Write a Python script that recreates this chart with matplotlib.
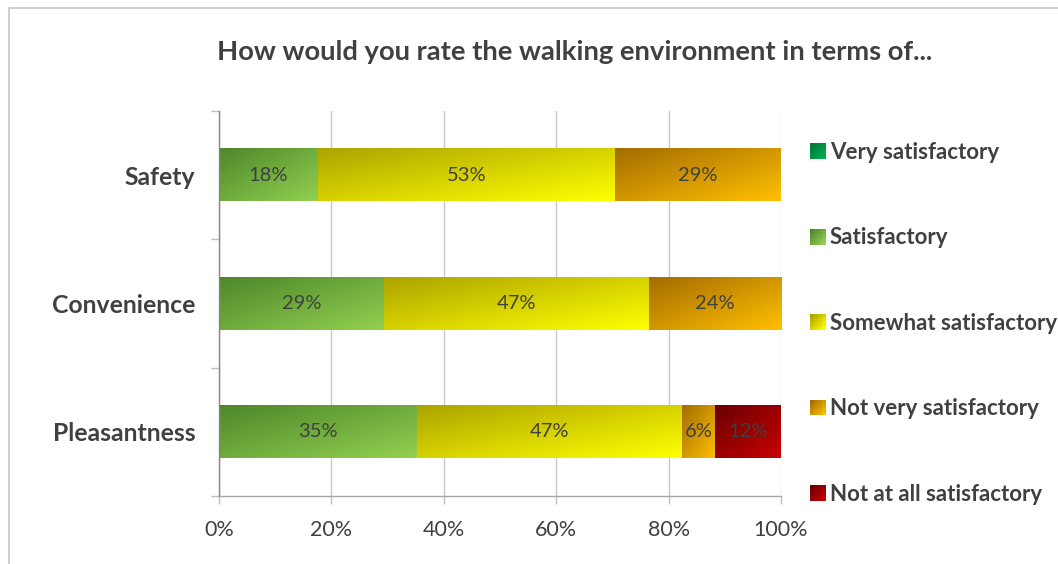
import matplotlib
matplotlib.use("Agg")
import matplotlib.pyplot as plt
import numpy as np
from matplotlib.colors import LinearSegmentedColormap
from matplotlib.legend_handler import HandlerBase
from matplotlib.patches import Rectangle, Patch

plt.rcParams["font.family"] = ["Lato", "DejaVu Sans"]

# Survey responses (share of respondents, %)
categories = ["Safety", "Convenience", "Pleasantness"]
series_names = ["Very satisfactory", "Satisfactory", "Somewhat satisfactory",
                "Not very satisfactory", "Not at all satisfactory"]
very_satisfactory = [0.0, 0.0, 0.0]
satisfactory = [17.6, 29.4, 35.3]
somewhat_satisfactory = [52.9, 47.1, 47.1]
not_very_satisfactory = [29.4, 23.5, 5.9]
not_at_all_satisfactory = [0.0, 0.0, 11.8]
x_ticks = [0, 20, 40, 60, 80, 100]
x_tick_labels = ["0%", "20%", "40%", "60%", "80%", "100%"]

# dark (top-left) -> light (bottom-right) gradient stops per series
gradients = [("#00793A", "#00B050"),
             ("#4E872A", "#92D050"),
             ("#ADA400", "#FFFF00"),
             ("#A46C00", "#FFC000"),
             ("#6A0000", "#C80000")]

series_values = [very_satisfactory, satisfactory, somewhat_satisfactory,
                 not_very_satisfactory, not_at_all_satisfactory]

text_color = "#404040"

fig = plt.figure(figsize=(10.58, 5.64), dpi=100)
ax = fig.add_axes([219 / 1058, 68 / 564, 562 / 1058, 385 / 564])

# chart-area frame
fig.patches.append(Rectangle((9 / 1058, -0.1), 1.2, 1 - 8 / 564 + 0.1,
                             transform=fig.transFigure, fill=False,
                             edgecolor="#C6C6C6", linewidth=1.2, zorder=0))


def diag_grid(n=64):
    u = np.linspace(0, 1, n)
    xx, yy = np.meshgrid(u, u)
    return (xx + yy) / 2.0  # top row first -> top-left darkest


ypos = np.arange(len(categories))
left = np.zeros(len(categories))
bar_h = 0.41
grid = diag_grid()
for name, vals, (c0, c1) in zip(series_names, series_values, gradients):
    bars = ax.barh(ypos, vals, left=left, height=bar_h, color="none",
                   edgecolor="none", label=name, zorder=2)
    cmap = LinearSegmentedColormap.from_list(name, [c0, c1])
    for bar, v in zip(bars, vals):
        if v <= 0:
            continue
        x0, y0 = bar.get_x(), bar.get_y()
        w, h = bar.get_width(), bar.get_height()
        # y axis is inverted: y0 is the top edge on screen
        ax.imshow(grid, cmap=cmap, extent=(x0, x0 + w, y0 + h, y0),
                  aspect="auto", interpolation="bilinear", zorder=2,
                  origin="upper")
        ax.text(x0 + w / 2, y0 + h / 2, f"{v:.0f}%", ha="center",
                va="center", color=text_color, fontsize=14.5, zorder=3)
    left = left + np.array(vals)

ax.set_xlim(0, 100)
ax.set_ylim(len(categories) - 0.5, -0.5)

ax.set_xticks(x_ticks)
ax.set_xticklabels(x_tick_labels)
ax.set_yticks(ypos)
ax.set_yticklabels(categories, fontweight="bold")
ax.set_yticks(np.arange(len(categories) + 1) - 0.5, minor=True)

ax.tick_params(axis="y", which="major", length=0, pad=17, labelsize=17.8,
               labelcolor=text_color)
ax.tick_params(axis="y", which="minor", length=6, width=1, color="#BFBFBF",
               direction="out")
ax.tick_params(axis="x", which="major", length=6, width=1, color="#BFBFBF",
               direction="out", pad=11, labelsize=15.5, labelcolor=text_color)

ax.grid(axis="x", color="#C8C8C8", linewidth=1, zorder=0)
ax.set_axisbelow(True)
for s in ["top", "right"]:
    ax.spines[s].set_visible(False)
ax.spines["left"].set_color("#868686")
ax.spines["bottom"].set_color("#A6A6A6")
ax.spines["left"].set_linewidth(1)
ax.spines["bottom"].set_linewidth(1)

fig.text(575 / 1058, 1 - 52 / 564, "How would you rate the walking environment in terms of...",
         ha="center", va="center", fontsize=19.7, fontweight="bold",
         color=text_color)


class GradientHandler(HandlerBase):
    def __init__(self, c0, c1, n=6):
        super().__init__()
        self.cmap = LinearSegmentedColormap.from_list("h", [c0, c1])
        self.n = n

    def create_artists(self, legend, orig_handle, xdescent, ydescent, width,
                       height, fontsize, trans):
        arts = []
        n = self.n
        side = min(width, height)
        x0 = -xdescent
        y0 = -ydescent + (height - side) / 2
        d = side / n
        for i in range(n):
            for j in range(n):
                t = (i + (n - 1 - j)) / (2 * (n - 1))
                r = Rectangle((x0 + i * d, y0 + j * d), d * 1.05, d * 1.05,
                              facecolor=self.cmap(t), edgecolor="none",
                              transform=trans, antialiased=False)
                arts.append(r)
        return arts


handles = [Patch(label=n) for n in series_names]
handler_map = {h: GradientHandler(c0, c1) for h, (c0, c1) in zip(handles, gradients)}
leg = fig.legend(handles=handles, loc="upper left",
                 bbox_to_anchor=(810 / 1058, 1 - 142 / 564), frameon=False,
                 handler_map=handler_map, handlelength=0.72, handleheight=0.72,
                 handletextpad=0.18, labelspacing=2.9, borderpad=0,
                 borderaxespad=0,
                 prop={"weight": "bold", "size": 16})
for t in leg.get_texts():
    t.set_color(text_color)

fig.savefig("out.png", dpi=100, facecolor="white")
